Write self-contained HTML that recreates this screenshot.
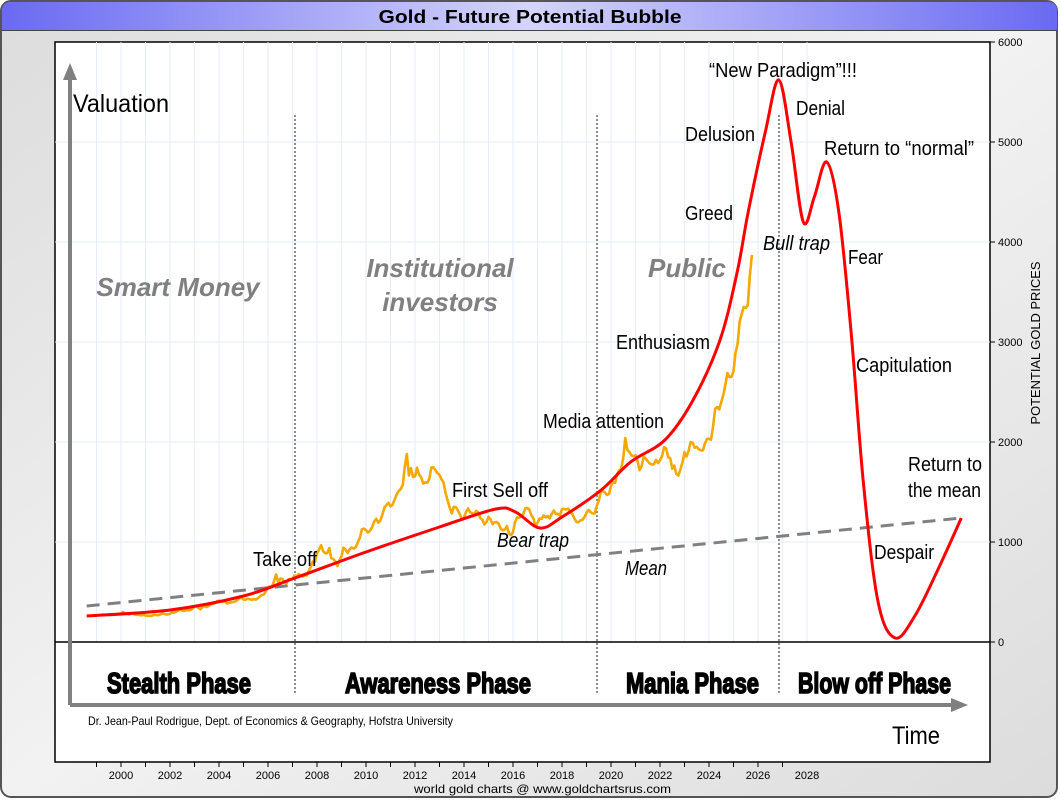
<!DOCTYPE html>
<html><head><meta charset="utf-8"><style>
html,body{margin:0;padding:0;width:1060px;height:800px;overflow:hidden;background:#fff}
svg{display:block}
.n{font-family:"Liberation Sans",sans-serif}
.ann{font-family:"Liberation Sans",sans-serif;font-size:20px;fill:#000}
.ph{font-family:"Liberation Sans",sans-serif;font-size:29px;font-weight:bold;fill:#000;stroke:#000;stroke-width:1.6}
.grp{font-family:"Liberation Sans",sans-serif;font-size:26px;font-weight:bold;font-style:italic;fill:#808080;text-anchor:middle}
.tick{font-family:"Liberation Sans",sans-serif;font-size:11px;fill:#000}
</style></head><body>
<svg id="chart" width="1060" height="800" viewBox="0 0 1060 800">
<defs>
<linearGradient id="tb" x1="0" x2="1" y1="0" y2="0">
<stop offset="0" stop-color="#6a6af2"/><stop offset="0.5" stop-color="#d4d4fb"/><stop offset="1" stop-color="#6a6af2"/></linearGradient>
<linearGradient id="bg" x1="0" x2="1" y1="0" y2="1">
<stop offset="0" stop-color="#dcdcdc"/><stop offset="0.5" stop-color="#f2f2f2"/><stop offset="1" stop-color="#dcdcdc"/></linearGradient>
</defs>
<rect x="1" y="1" width="1056" height="796" rx="10" fill="url(#bg)" stroke="#555" stroke-width="2"/>
<path d="M2,30 L2,11 Q2,2 11,2 L1048,2 Q1057,2 1057,11 L1057,30 Z" fill="url(#tb)"/>
<line x1="2" y1="30.5" x2="1057" y2="30.5" stroke="#444" stroke-width="1"/>
<text x="530" y="23" text-anchor="middle" font-family="Liberation Sans, sans-serif" font-size="18" font-weight="bold" textLength="303" lengthAdjust="spacingAndGlyphs">Gold - Future Potential Bubble</text>
<rect x="55" y="42" width="935" height="720" fill="#fff" stroke="#000" stroke-width="1.5"/>
<g id="grid"></g>
<line x1="55" y1="642" x2="990" y2="642" stroke="#000" stroke-width="1.5"/>
<g id="yaxis"></g>
<g id="xaxis"></g>
<text x="1040" y="343" transform="rotate(-90 1040 343)" text-anchor="middle" font-family="Liberation Sans, sans-serif" font-size="13" textLength="163" lengthAdjust="spacingAndGlyphs">POTENTIAL GOLD PRICES</text>
<g stroke="#666" stroke-width="1.5" stroke-dasharray="2 2">
<line x1="295" y1="115" x2="295" y2="695"/><line x1="597" y1="115" x2="597" y2="695"/><line x1="779" y1="115" x2="779" y2="695"/>
</g>
<path d="M70,705 L70,78" stroke="#808080" stroke-width="4" fill="none"/>
<polygon points="70,63 63,80 77,80" fill="#808080"/>
<path d="M70,705 L955,705" stroke="#808080" stroke-width="4" fill="none"/>
<polygon points="968,705 951,698 951,712" fill="#808080"/>
<path id="meanLine" fill="none" stroke="#808080" stroke-width="3" stroke-dasharray="13 8"/>
<path id="goldLine" fill="none" stroke="#f5a800" stroke-width="2.6" stroke-linejoin="round"/>
<path id="bubbleLine" fill="none" stroke="#ff0000" stroke-width="3"/>
<text x="73" y="112" class="n" font-size="25" textLength="96" lengthAdjust="spacingAndGlyphs">Valuation</text>
<text x="892" y="744" class="n" font-size="25" textLength="48" lengthAdjust="spacingAndGlyphs">Time</text>
<text x="88" y="725" class="n" font-size="12" textLength="365" lengthAdjust="spacingAndGlyphs">Dr. Jean-Paul Rodrigue, Dept. of Economics &amp; Geography, Hofstra University</text>
<text x="414" y="793" font-family="Liberation Sans, sans-serif" font-size="12" textLength="257" lengthAdjust="spacingAndGlyphs">world gold charts @ www.goldchartsrus.com</text>
<text x="178" y="296" class="grp">Smart Money</text>
<text x="440" y="277" class="grp">Institutional</text>
<text x="440" y="311" class="grp">investors</text>
<text x="687" y="277" class="grp">Public</text>
<text x="107" y="693" class="ph" textLength="144" lengthAdjust="spacingAndGlyphs">Stealth Phase</text>
<text x="345" y="693" class="ph" textLength="186" lengthAdjust="spacingAndGlyphs">Awareness Phase</text>
<text x="626" y="693" class="ph" textLength="133" lengthAdjust="spacingAndGlyphs">Mania Phase</text>
<text x="798" y="693" class="ph" textLength="153" lengthAdjust="spacingAndGlyphs">Blow off Phase</text>
<text x="253" y="566" class="ann" textLength="64" lengthAdjust="spacingAndGlyphs">Take off</text>
<text x="452" y="497" class="ann" textLength="96" lengthAdjust="spacingAndGlyphs">First Sell off</text>
<text x="497" y="547" class="ann" font-style="italic" textLength="72" lengthAdjust="spacingAndGlyphs">Bear trap</text>
<text x="543" y="428" class="ann" textLength="121" lengthAdjust="spacingAndGlyphs">Media attention</text>
<text x="625" y="575" class="ann" font-style="italic" textLength="42" lengthAdjust="spacingAndGlyphs">Mean</text>
<text x="616" y="349" class="ann" textLength="94" lengthAdjust="spacingAndGlyphs">Enthusiasm</text>
<text x="685" y="220" class="ann" textLength="48" lengthAdjust="spacingAndGlyphs">Greed</text>
<text x="685" y="141" class="ann" textLength="70" lengthAdjust="spacingAndGlyphs">Delusion</text>
<text x="709" y="77" class="ann" textLength="148" lengthAdjust="spacingAndGlyphs">“New Paradigm”!!!</text>
<text x="796" y="115" class="ann" textLength="49" lengthAdjust="spacingAndGlyphs">Denial</text>
<text x="824" y="155" class="ann" textLength="150" lengthAdjust="spacingAndGlyphs">Return to “normal”</text>
<text x="763" y="250" class="ann" font-style="italic" textLength="67" lengthAdjust="spacingAndGlyphs">Bull trap</text>
<text x="848" y="264" class="ann" textLength="35" lengthAdjust="spacingAndGlyphs">Fear</text>
<text x="856" y="372" class="ann" textLength="96" lengthAdjust="spacingAndGlyphs">Capitulation</text>
<text x="908" y="471" class="ann" textLength="74" lengthAdjust="spacingAndGlyphs">Return to</text>
<text x="908" y="497" class="ann" textLength="73" lengthAdjust="spacingAndGlyphs">the mean</text>
<text x="874" y="559" class="ann" textLength="60" lengthAdjust="spacingAndGlyphs">Despair</text>
</svg>
<script>
var yTicks=[0,1000,2000,3000,4000,5000,6000];
var xTickYears=[2000,2002,2004,2006,2008,2010,2012,2014,2016,2018,2020,2022,2024,2026,2028];
var goldStartYear=2000;
var goldMonthly=[284,300,286,280,275,285,282,275,273,270,266,272,
265,262,263,260,272,270,268,273,283,283,276,276,
282,296,294,302,314,322,314,310,319,317,319,333,
356,359,340,328,355,356,351,360,378,379,389,407,
414,405,406,404,384,392,398,400,406,420,439,442,
424,423,434,428,422,430,424,437,456,470,476,510,
549,555,557,610,676,596,633,632,598,585,627,629,
631,665,655,679,667,655,665,665,712,754,806,803,
889,922,968,909,888,889,939,839,829,806,760,816,
858,943,924,890,928,945,934,949,996,1043,1127,1134,
1118,1095,1113,1148,1205,1232,1193,1215,1271,1343,1370,1391,
1356,1372,1424,1473,1510,1529,1572,1756,1880,1665,1739,1652,
1656,1742,1673,1650,1585,1596,1594,1630,1745,1747,1721,1688,
1670,1627,1593,1487,1414,1343,1286,1352,1349,1316,1275,1225,
1244,1300,1336,1299,1287,1279,1311,1296,1239,1222,1176,1200,
1251,1227,1178,1198,1199,1181,1131,1117,1125,1159,1086,1068,
1097,1199,1246,1242,1260,1276,1337,1341,1326,1266,1238,1157,
1192,1234,1231,1266,1246,1260,1236,1283,1314,1280,1282,1265,
1331,1331,1325,1334,1303,1282,1238,1202,1198,1215,1221,1250,
1291,1320,1300,1286,1284,1359,1414,1500,1510,1495,1470,1480,
1560,1597,1591,1683,1715,1732,1847,2040,1921,1900,1866,1858,
1867,1808,1718,1760,1850,1834,1807,1785,1775,1777,1821,1790,
1817,1856,1948,1937,1848,1837,1733,1764,1681,1664,1726,1798,
1898,1854,1912,2000,1992,1943,1951,1928,1916,1916,1985,2030,
2033,2023,2158,2330,2350,2326,2400,2470,2570,2690,2650,2650,
2710,2890,2980,3200,3280,3350,3340,3370,3660,3870];
var bubbleYears=[1998.6,2002,2005,2007.1,2010,2013,2015.3,2016.1,2017.1,2018,2019.6,2020.8,2022.2,2023.35,2024.45,2025.15,2025.6,2026.3,2026.85,2027.35,2027.85,2028.3,2028.8,2029.3,2029.8,2030.3,2030.9,2031.6,2032.4,2033.3,2034.3];
var bubbleValues=[260,320,460,640,900,1150,1330,1300,1140,1250,1520,1800,2020,2420,3020,3700,4300,5100,5620,5000,4200,4450,4800,4300,3100,1600,400,40,260,700,1240];
var meanYears=[1998.6,2034.3];
var meanValues=[360,1240];

function xs(yr){return 121+(yr-2000)*24.5;}
function ys(v){return 642-v*0.1;}
var NS='http://www.w3.org/2000/svg';
var grid=document.getElementById('grid');
for(var yr=1999;yr<=2028;yr++){
  var gl=document.createElementNS(NS,'line');
  gl.setAttribute('x1',xs(yr));gl.setAttribute('x2',xs(yr));gl.setAttribute('y1',42);gl.setAttribute('y2',642);
  gl.setAttribute('stroke','#e3eef8');gl.setAttribute('stroke-width','1');
  
  
  grid.appendChild(gl);
}
var ya=document.getElementById('yaxis');
yTicks.forEach(function(v){
  if(v>0&&v<6000){
    var h=document.createElementNS(NS,'line');
    h.setAttribute('x1',55);h.setAttribute('x2',990);h.setAttribute('y1',ys(v));h.setAttribute('y2',ys(v));
    h.setAttribute('stroke','#e3eef8');
    
    
    grid.appendChild(h);
  }
  var tk=document.createElementNS(NS,'line');
  tk.setAttribute('x1',990);tk.setAttribute('x2',995);tk.setAttribute('y1',ys(v));tk.setAttribute('y2',ys(v));tk.setAttribute('stroke','#000');
  
  
  ya.appendChild(tk);
  var t=document.createElementNS(NS,'text');
  t.setAttribute('x',998);t.setAttribute('y',ys(v)+4);t.setAttribute('class','tick');t.textContent=v;
  
  
  ya.appendChild(t);
});
var xa=document.getElementById('xaxis');
for(var yr2=1999;yr2<=2027;yr2++){
  var m=document.createElementNS(NS,'line');
  m.setAttribute('x1',xs(yr2));m.setAttribute('x2',xs(yr2));m.setAttribute('y1',762);m.setAttribute('y2',767);m.setAttribute('stroke','#000');
  
  
  xa.appendChild(m);
}
xTickYears.forEach(function(yr){
  var t=document.createElementNS(NS,'text');
  t.setAttribute('x',xs(yr));t.setAttribute('y',779);t.setAttribute('text-anchor','middle');t.setAttribute('class','tick');t.textContent=yr;
  
  
  xa.appendChild(t);
});
var d='';
goldMonthly.forEach(function(v,i){var yr=goldStartYear+i/12;d+=(i?'L':'M')+xs(yr).toFixed(1)+','+ys(v).toFixed(1);});
document.getElementById('goldLine').setAttribute('d',d);
document.getElementById('meanLine').setAttribute('d','M'+xs(meanYears[0])+','+ys(meanValues[0])+'L'+xs(meanYears[1])+','+ys(meanValues[1]));
var P=bubbleYears.map(function(yr,i){return [xs(yr),ys(bubbleValues[i])];});
var bd='M'+P[0][0]+','+P[0][1];
for(var i=0;i<P.length-1;i++){
  var p0=P[i-1]||P[i],p1=P[i],p2=P[i+1],p3=P[i+2]||P[i+1];
  var c1x=p1[0]+(p2[0]-p0[0])/6,c1y=p1[1]+(p2[1]-p0[1])/6;
  var c2x=p2[0]-(p3[0]-p1[0])/6,c2y=p2[1]-(p3[1]-p1[1])/6;
  bd+='C'+c1x.toFixed(1)+','+c1y.toFixed(1)+' '+c2x.toFixed(1)+','+c2y.toFixed(1)+' '+p2[0].toFixed(1)+','+p2[1].toFixed(1);
}
document.getElementById('bubbleLine').setAttribute('d',bd);
</script>
</body></html>
